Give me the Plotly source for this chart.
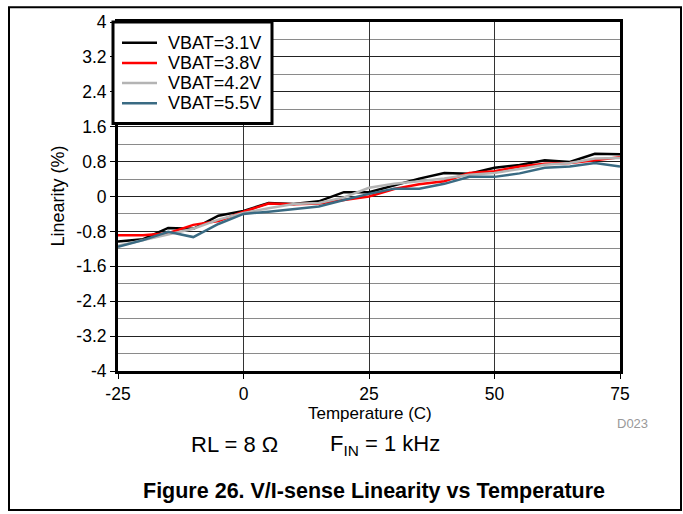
import plotly.graph_objects as go

temps = [-25, -20, -15, -10, -5, 0, 5, 10, 15, 20, 25, 30, 35, 40, 45, 50, 55, 60, 65, 70, 75]
vbat_31 = [-1.03, -0.98, -0.72, -0.74, -0.44, -0.33, -0.15, -0.17, -0.11, 0.10, 0.10, 0.26, 0.41, 0.54, 0.52, 0.66, 0.72, 0.83, 0.79, 0.98, 0.97]
vbat_38 = [-0.89, -0.89, -0.84, -0.65, -0.56, -0.35, -0.16, -0.18, -0.16, -0.08, 0.00, 0.17, 0.28, 0.35, 0.54, 0.58, 0.69, 0.75, 0.77, 0.83, 0.90]
vbat_42 = [-1.13, -1.00, -0.87, -0.74, -0.53, -0.38, -0.27, -0.17, -0.15, -0.02, 0.20, 0.29, 0.35, 0.41, 0.50, 0.54, 0.63, 0.73, 0.77, 0.87, 0.88]
vbat_55 = [-1.15, -1.00, -0.81, -0.93, -0.63, -0.40, -0.35, -0.29, -0.23, -0.08, 0.06, 0.18, 0.18, 0.29, 0.45, 0.45, 0.53, 0.66, 0.69, 0.77, 0.69]

series_names = ["VBAT=3.1V", "VBAT=3.8V", "VBAT=4.2V", "VBAT=5.5V"]
series_vals = [vbat_31, vbat_38, vbat_42, vbat_55]
series_colors = ["#000000", "#FF0000", "#B4B4B4", "#3A6B83"]

x_ticks = [-25, 0, 25, 50, 75]
y_ticks = [-4, -3.2, -2.4, -1.6, -0.8, 0, 0.8, 1.6, 2.4, 3.2, 4]
y_labels = ["-4", "-3.2", "-2.4", "-1.6", "-0.8", "0", "0.8", "1.6", "2.4", "3.2", "4"]

FONT = "Liberation Sans, Arial, sans-serif"

# plot area in pixels: x 118..620, y 17..371
PL, PR, PT, PB = 118, 620, 17, 371
PW, PH = PR - PL, PB - PT


def px(x):
    return (x - PL) / PW


def py(y):
    return (PB - y) / PH


fig = go.Figure()
for name, vals, col in zip(series_names, series_vals, series_colors):
    fig.add_trace(go.Scatter(x=temps, y=vals, mode="lines", name=name,
                             line=dict(color=col, width=2.5), showlegend=False))

fig.update_layout(
    width=683, height=514,
    margin=dict(l=PL, r=683 - PR, t=PT, b=514 - PB),
    paper_bgcolor="white", plot_bgcolor="white",
    font=dict(family=FONT, size=17, color="black"),
    showlegend=False,
    xaxis=dict(range=[-25, 75], tickvals=x_ticks, ticktext=[str(v) for v in x_ticks],
               showgrid=True, gridcolor="#333333", gridwidth=1,
               showline=True, linecolor="black", linewidth=3, mirror=True,
               ticks="outside", ticklen=5, tickcolor="black",
               zeroline=False, tickfont=dict(size=17.5)),
    yaxis=dict(range=[-4, 4], tickvals=y_ticks, ticktext=y_labels,
               showgrid=True, gridcolor="#222222", gridwidth=1,
               minor=dict(dtick=0.4, tick0=0, showgrid=True, gridcolor="#8A8A8A", gridwidth=1, ticks=""),
               showline=True, linecolor="black", linewidth=3, mirror=True,
               ticks="outside", ticklen=5, tickcolor="black",
               zeroline=False, tickfont=dict(size=17.5)),
)

# legend box (drawn manually to match compact entry spacing)
fig.add_shape(type="rect", xref="paper", yref="paper",
              x0=px(113), x1=px(272), y0=py(120), y1=py(17),
              line=dict(color="black", width=3), fillcolor="white", layer="above")
entry_y = [38, 58.5, 79, 99.5]
for name, col, ey in zip(series_names, series_colors, entry_y):
    fig.add_shape(type="line", xref="paper", yref="paper",
                  x0=px(122), x1=px(157), y0=py(ey), y1=py(ey),
                  line=dict(color=col, width=2.5), layer="above")
    fig.add_annotation(text=name, xref="paper", yref="paper", x=px(166), y=py(ey),
                       showarrow=False, font=dict(size=18), xanchor="left", yanchor="middle")

fig.add_annotation(text="Temperature (C)", xref="paper", yref="paper", x=px(370), y=py(414),
                   showarrow=False, font=dict(size=17), xanchor="center", yanchor="middle")
fig.add_annotation(text="Linearity (%)", xref="paper", yref="paper", x=px(57), y=0.5,
                   showarrow=False, textangle=-90, font=dict(size=18), xanchor="center", yanchor="middle")
fig.add_annotation(text="D023", xref="paper", yref="paper", x=px(632), y=py(424),
                   showarrow=False, font=dict(size=13, color="#999999"), xanchor="center", yanchor="middle")
fig.add_annotation(text="RL = 8 Ω", xref="paper", yref="paper", x=px(189), y=py(446),
                   showarrow=False, font=dict(size=22), xanchor="left", yanchor="middle")
fig.add_annotation(text="F<sub>IN</sub> = 1 kHz", xref="paper", yref="paper", x=px(328), y=py(446),
                   showarrow=False, font=dict(size=22), xanchor="left", yanchor="middle")
fig.add_annotation(text="<b>Figure 26. V/I-sense Linearity vs Temperature</b>", xref="paper", yref="paper",
                   x=px(374), y=py(493), showarrow=False, font=dict(size=21.5), xanchor="center", yanchor="middle")

# outer frame
fig.add_shape(type="rect", xref="paper", yref="paper",
              x0=px(9), x1=px(681), y0=py(512), y1=py(2),
              line=dict(color="black", width=2), fillcolor="rgba(0,0,0,0)", layer="below")

fig.write_html("out.html", config={"displayModeBar": False},
               post_script="document.body.style.margin='0';document.body.style.padding='0';")
